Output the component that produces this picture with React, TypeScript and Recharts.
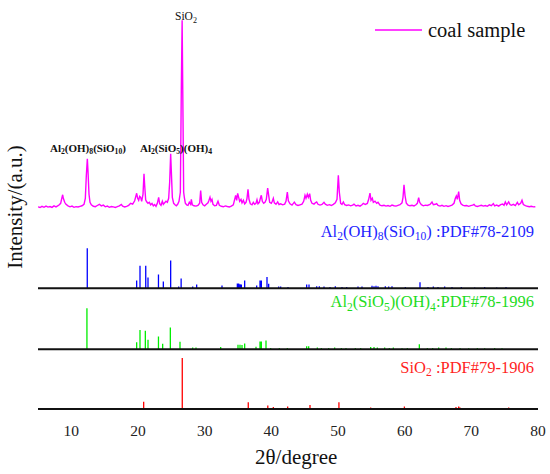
import React from "react";
import {
  ComposedChart,
  Line,
  XAxis,
  YAxis,
  ReferenceLine,
  Legend,
} from "recharts";

// coal sample XRD trace: [2theta, counts]
const coalSample: [number, number][] = [
  [5.0, 205], [5.3, 198], [5.6, 210], [5.9, 200], [6.2, 212], [6.5, 202], [6.8, 208],
  [7.1, 199], [7.4, 214], [7.7, 204], [8.0, 216], [8.2, 225], [8.4, 240], [8.6, 300],
  [8.7, 325], [8.8, 290], [9.0, 250], [9.2, 230], [9.5, 215], [9.8, 205], [10.1, 212],
  [10.4, 200], [10.7, 207], [11.0, 203], [11.3, 210], [11.6, 215], [11.9, 230], [12.1, 290],
  [12.25, 520], [12.4, 685], [12.5, 560], [12.65, 330], [12.8, 250], [13.0, 225], [13.3, 210],
  [13.6, 206], [13.9, 218], [14.2, 230], [14.5, 214], [14.8, 222], [15.1, 205], [15.4, 212],
  [15.7, 200], [16.0, 208], [16.3, 204], [16.6, 199], [16.9, 206], [17.2, 215], [17.5, 228],
  [17.7, 212], [18.0, 204], [18.3, 210], [18.6, 220], [18.9, 240], [19.2, 232], [19.5, 265],
  [19.8, 340], [19.95, 290], [20.1, 270], [20.25, 310], [20.4, 300], [20.55, 260], [20.75, 330],
  [20.9, 535], [21.0, 420], [21.15, 275], [21.3, 255], [21.5, 240], [21.7, 250], [21.9, 225],
  [22.1, 238], [22.3, 215], [22.5, 228], [22.7, 210], [22.9, 240], [23.1, 300], [23.25, 235],
  [23.45, 220], [23.65, 260], [23.8, 230], [24.0, 245], [24.2, 260], [24.4, 250], [24.6, 290],
  [24.75, 450], [24.9, 735], [25.0, 560], [25.15, 300], [25.35, 240], [25.55, 225], [25.75, 215],
  [25.95, 230], [26.15, 260], [26.35, 350], [26.5, 1400], [26.62, 2070], [26.75, 1100],
  [26.85, 350], [26.95, 300], [27.1, 240], [27.3, 225], [27.5, 220], [27.7, 250], [27.9, 230],
  [28.0, 280], [28.15, 225], [28.4, 215], [28.7, 212], [29.0, 220], [29.25, 240], [29.4, 368],
  [29.55, 250], [29.75, 225], [30.0, 215], [30.25, 230], [30.5, 245], [30.65, 270], [30.8, 300],
  [30.95, 260], [31.1, 280], [31.25, 230], [31.5, 215], [31.75, 220], [32.0, 260], [32.2, 220],
  [32.5, 210], [32.8, 205], [33.1, 214], [33.4, 208], [33.7, 204], [34.0, 212], [34.3, 225],
  [34.5, 280], [34.65, 320], [34.8, 270], [34.95, 340], [35.1, 300], [35.25, 260], [35.45, 280],
  [35.6, 245], [35.8, 270], [36.0, 235], [36.2, 250], [36.35, 290], [36.5, 380], [36.65, 280],
  [36.85, 235], [37.1, 225], [37.3, 250], [37.5, 230], [37.7, 240], [37.85, 275], [38.0, 235],
  [38.2, 250], [38.4, 300], [38.5, 320], [38.65, 260], [38.85, 240], [39.05, 250], [39.25, 280],
  [39.45, 392], [39.6, 320], [39.75, 250], [40.0, 240], [40.15, 260], [40.3, 290], [40.45, 245],
  [40.7, 230], [40.95, 255], [41.15, 228], [41.4, 235], [41.7, 225], [42.0, 232], [42.2, 260],
  [42.4, 352], [42.55, 265], [42.8, 235], [43.1, 222], [43.45, 252], [43.7, 226], [44.0, 218],
  [44.3, 225], [44.6, 232], [44.85, 260], [45.05, 320], [45.2, 290], [45.4, 330], [45.55, 300],
  [45.75, 336], [45.9, 270], [46.1, 240], [46.4, 232], [46.6, 245], [46.8, 253], [47.0, 230],
  [47.3, 222], [47.6, 228], [47.9, 250], [48.1, 232], [48.4, 220], [48.7, 226], [49.0, 218],
  [49.3, 230], [49.6, 245], [49.85, 280], [50.05, 520], [50.2, 350], [50.4, 240], [50.6, 228],
  [50.8, 253], [51.0, 226], [51.3, 218], [51.6, 224], [51.9, 215], [52.2, 222], [52.4, 232],
  [52.7, 214], [53.0, 220], [53.3, 212], [53.6, 226], [53.8, 240], [54.1, 228], [54.4, 238],
  [54.6, 280], [54.8, 342], [54.95, 270], [55.15, 290], [55.3, 250], [55.55, 262], [55.8, 240],
  [56.0, 250], [56.3, 222], [56.6, 215], [56.9, 220], [57.2, 212], [57.5, 218], [57.8, 210],
  [58.1, 222], [58.4, 216], [58.7, 212], [59.0, 220], [59.3, 226], [59.6, 245], [59.75, 300],
  [59.9, 426], [60.05, 320], [60.25, 240], [60.5, 222], [60.8, 215], [61.1, 220], [61.4, 214],
  [61.7, 225], [61.9, 240], [62.1, 297], [62.25, 250], [62.5, 226], [62.8, 215], [63.1, 222],
  [63.4, 218], [63.8, 228], [64.1, 253], [64.3, 225], [64.6, 230], [64.8, 237], [65.0, 218],
  [65.3, 212], [65.6, 220], [65.9, 210], [66.2, 216], [66.5, 208], [66.8, 215], [67.1, 222],
  [67.4, 240], [67.6, 290], [67.75, 313], [67.9, 280], [68.1, 358], [68.25, 270], [68.45, 235],
  [68.7, 222], [69.0, 215], [69.3, 218], [69.6, 210], [69.9, 216], [70.2, 222], [70.4, 230],
  [70.6, 214], [70.9, 208], [71.2, 214], [71.5, 220], [71.8, 212], [72.1, 218], [72.4, 210],
  [72.7, 224], [73.0, 216], [73.3, 237], [73.5, 215], [73.8, 222], [74.1, 212], [74.4, 226],
  [74.7, 232], [74.9, 220], [75.1, 253], [75.3, 225], [75.6, 255], [75.8, 228], [76.0, 220],
  [76.3, 230], [76.6, 218], [76.9, 250], [77.1, 225], [77.4, 240], [77.6, 270], [77.8, 228],
  [78.1, 216], [78.4, 210], [78.7, 206], [79.0, 210], [79.3, 204], [79.6, 206],
];

// Al2(OH)8(SiO10) PDF#78-2109: [2theta, relative intensity %]
const pdf782109: [number, number][] = [
  [12.39, 100], [19.8, 19], [20.3, 56], [21.16, 56], [21.5, 27], [23.07, 34], [23.8, 17],
  [24.9, 69], [26.1, 4], [26.47, 24], [28.2, 4], [28.8, 9], [32.6, 7], [34.9, 12], [35.1, 12],
  [35.3, 10], [35.5, 9], [36.0, 19], [37.8, 7], [38.3, 19], [38.5, 19], [39.35, 28], [39.6, 11],
  [41.1, 4], [41.4, 4], [42.5, 3], [45.3, 9], [45.65, 9], [46.8, 5], [47.2, 5], [47.9, 4],
  [48.8, 3], [49.6, 5], [50.6, 3], [51.3, 3], [53.0, 4], [53.6, 4], [55.1, 6], [55.4, 5],
  [55.7, 6], [56.0, 5], [57.1, 5], [57.6, 4], [58.1, 5], [60.1, 3], [62.3, 15], [63.5, 3],
  [64.3, 4], [65.0, 3], [66.0, 4], [67.1, 3], [68.5, 3], [70.5, 2], [72.0, 3], [73.8, 2],
  [75.2, 3],
];

// Al2(SiO5)(OH)4 PDF#78-1996
const pdf781996: [number, number][] = [
  [12.34, 100], [19.8, 17], [20.3, 47], [21.1, 45], [21.5, 23], [23.07, 31], [23.7, 13],
  [24.85, 53], [26.3, 18], [28.2, 4], [28.7, 4], [32.4, 5], [35.0, 11], [35.3, 11], [35.6, 10],
  [36.0, 14], [37.7, 6], [38.3, 19], [38.5, 19], [39.2, 21], [39.9, 3], [41.2, 3], [42.4, 3],
  [45.3, 7], [45.6, 7], [46.9, 4], [47.5, 3], [48.6, 3], [49.5, 4], [50.5, 3], [51.2, 3],
  [52.6, 3], [53.4, 3], [54.9, 5], [55.4, 5], [55.9, 4], [57.0, 4], [57.7, 3], [58.3, 4],
  [59.6, 2], [60.4, 3], [62.2, 12], [63.4, 3], [64.2, 3], [65.1, 4], [66.2, 4], [67.0, 3],
  [68.3, 3], [69.6, 2], [70.9, 3], [72.0, 2], [73.5, 3], [74.6, 2],
];

// SiO2 PDF#79-1906
const pdf791906: [number, number][] = [
  [20.85, 14], [26.64, 100], [36.54, 13], [39.47, 7], [40.3, 4], [42.45, 5], [45.8, 8],
  [50.14, 13], [54.9, 3], [55.3, 2], [59.96, 5], [64.0, 2], [67.7, 4], [68.1, 5], [68.3, 3],
  [73.5, 2], [75.6, 3], [77.7, 2],
];

const xTicks = [10, 20, 30, 40, 50, 60, 70, 80];

const serif = "Liberation Serif, Tinos, DejaVu Serif, serif";
const frame = { stroke: "#111", strokeWidth: 2 };

const toPoints = (arr: [number, number][]) => arr.map(([x, y]) => ({ x, y }));
// each stick: baseline -> peak, then a gap
const toSticks = (arr: [number, number][]) =>
  arr.flatMap(([x, h]) => [
    { x, y: 0 },
    { x, y: h },
    { x, y: null },
  ]);

const Sub = ({ children }: { children: React.ReactNode }) => (
  <span style={{ fontSize: "0.7em", position: "relative", top: "0.3em" }}>{children}</span>
);

const Note = ({
  style,
  children,
}: {
  style: React.CSSProperties;
  children: React.ReactNode;
}) => (
  <div
    style={{
      position: "absolute",
      fontFamily: serif,
      lineHeight: 1,
      whiteSpace: "nowrap",
      ...style,
    }}
  >
    {children}
  </div>
);

const renderLegend = (props: any) => (
  <div style={{ display: "flex", alignItems: "center", whiteSpace: "nowrap" }}>
    {(props.payload || [])
      .filter((p: any) => p.value === "coal sample")
      .map((p: any) => (
        <div key={p.value} style={{ display: "flex", alignItems: "center" }}>
          <svg width={47} height={4}>
            <line x1={0} y1={2} x2={47} y2={2} stroke={p.color} strokeWidth={1.5} />
          </svg>
          <span
            style={{
              marginLeft: 6,
              fontFamily: serif,
              fontSize: 20.5,
              color: "#111",
              lineHeight: 1,
            }}
          >
            {p.value}
          </span>
        </div>
      ))}
  </div>
);

export default function App() {
  return (
    <div
      style={{
        position: "relative",
        width: 550,
        height: 474,
        background: "#fff",
        fontFamily: serif,
      }}
    >
      <style>{"body{margin:0}"}</style>
      <ComposedChart
        width={550}
        height={474}
        margin={{ top: 7, right: 12, bottom: 35, left: 38 }}
      >
        <XAxis
          dataKey="x"
          type="number"
          domain={[5, 80]}
          ticks={xTicks}
          allowDataOverflow
          tickLine={false}
          tickMargin={10}
          height={30}
          axisLine={frame}
          tick={{ fill: "#222", fontSize: 15.5, fontFamily: serif }}
        />
        <XAxis
          xAxisId="top"
          orientation="top"
          type="number"
          domain={[5, 80]}
          tick={false}
          tickLine={false}
          height={0}
          axisLine={frame}
        />
        <YAxis
          yAxisId="coal"
          type="number"
          domain={[-1817, 2203]}
          allowDataOverflow
          tick={false}
          tickLine={false}
          width={0}
          axisLine={frame}
        />
        <YAxis yAxisId="blue" type="number" hide domain={[-302, 703]} allowDataOverflow />
        <YAxis yAxisId="green" type="number" hide domain={[-146, 835]} allowDataOverflow />
        <YAxis
          yAxisId="red"
          orientation="right"
          type="number"
          domain={[0, 788]}
          allowDataOverflow
          tick={false}
          tickLine={false}
          width={0}
          axisLine={frame}
        />
        <Line
          yAxisId="coal"
          data={toPoints(coalSample)}
          dataKey="y"
          name="coal sample"
          stroke="#ff00ff"
          strokeWidth={1.4}
          dot={false}
          activeDot={false}
          isAnimationActive={false}
        />
        <Line
          yAxisId="blue"
          data={toSticks(pdf782109)}
          dataKey="y"
          name="PDF#78-2109"
          legendType="none"
          stroke="#0000ff"
          strokeWidth={1.3}
          dot={false}
          activeDot={false}
          isAnimationActive={false}
        />
        <Line
          yAxisId="green"
          data={toSticks(pdf781996)}
          dataKey="y"
          name="PDF#78-1996"
          legendType="none"
          stroke="#00ee00"
          strokeWidth={1.3}
          dot={false}
          activeDot={false}
          isAnimationActive={false}
        />
        <Line
          yAxisId="red"
          data={toSticks(pdf791906)}
          dataKey="y"
          name="PDF#79-1906"
          legendType="none"
          stroke="#ff0000"
          strokeWidth={1.3}
          dot={false}
          activeDot={false}
          isAnimationActive={false}
        />
        <ReferenceLine yAxisId="blue" y={0} stroke="#111" strokeWidth={2} />
        <ReferenceLine yAxisId="green" y={0} stroke="#111" strokeWidth={2} />
        <Legend
          layout="horizontal"
          verticalAlign="middle"
          align="center"
          content={renderLegend}
          wrapperStyle={{ position: "absolute", top: 19.5, left: 375, width: 170 }}
        />
      </ComposedChart>

      <Note
        style={{
          left: 14.5,
          top: 206.5,
          fontSize: 21,
          color: "#111",
          transform: "translate(-50%, -50%) rotate(-90deg)",
        }}
      >
        Intensity/(a.u.)
      </Note>
      <Note style={{ left: 255, top: 447, fontSize: 21, color: "#111" }}>2θ/degree</Note>

      <Note style={{ left: 175, top: 11.3, fontSize: 11.5, color: "#111" }}>
        SiO<Sub>2</Sub>
      </Note>
      <Note style={{ left: 50, top: 142.8, fontSize: 11, fontWeight: "bold", color: "#111" }}>
        Al<Sub>2</Sub>(OH)<Sub>8</Sub>(SiO<Sub>10</Sub>)
      </Note>
      <Note style={{ left: 140, top: 142.8, fontSize: 11, fontWeight: "bold", color: "#111" }}>
        Al<Sub>2</Sub>(SiO<Sub>5</Sub>)(OH)<Sub>4</Sub>
      </Note>

      <Note style={{ right: 16, top: 224, fontSize: 16.5, color: "#1f1fff" }}>
        Al<Sub>2</Sub>(OH)<Sub>8</Sub>(SiO<Sub>10</Sub>) :PDF#78-2109
      </Note>
      <Note style={{ right: 16, top: 294.4, fontSize: 16.5, color: "#1edc1e" }}>
        Al<Sub>2</Sub>(SiO<Sub>5</Sub>)(OH)<Sub>4</Sub>:PDF#78-1996
      </Note>
      <Note style={{ right: 16, top: 359.8, fontSize: 16.5, color: "#ff1f1f" }}>
        SiO<Sub>2</Sub> :PDF#79-1906
      </Note>
    </div>
  );
}
